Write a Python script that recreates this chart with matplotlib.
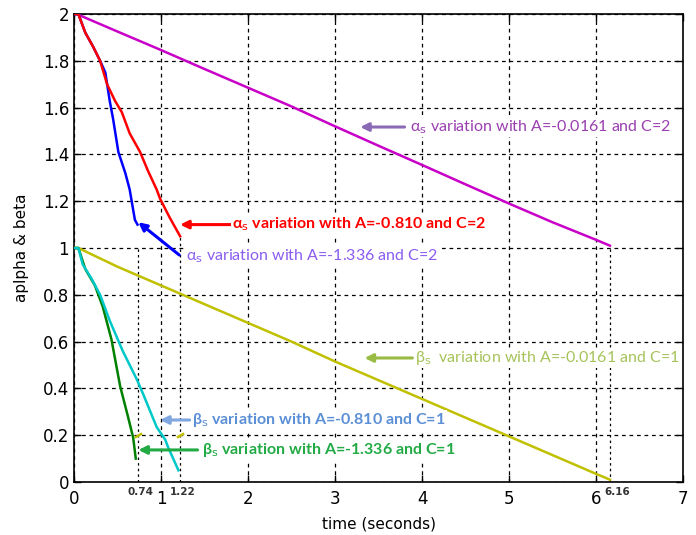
import matplotlib
matplotlib.use("Agg")
import matplotlib.pyplot as plt

# alpha curves (C=2)
alpha_slow_t = [0.0, 0.03, 0.5, 1.0, 1.5, 2.0, 2.5, 3.0, 3.5, 4.0, 4.5, 5.0, 5.5, 6.0, 6.16]
alpha_slow_v = [2.0, 2.0, 1.925, 1.846, 1.765, 1.685, 1.605, 1.52, 1.437, 1.355, 1.272, 1.19, 1.11, 1.035, 1.01]

alpha_mid_t = [0.0, 0.05, 0.13, 0.22, 0.30, 0.38, 0.47, 0.55, 0.64, 0.76, 0.85, 0.95, 0.99, 1.10, 1.22]
alpha_mid_v = [2.0, 2.0, 1.92, 1.86, 1.80, 1.70, 1.63, 1.58, 1.49, 1.41, 1.33, 1.25, 1.21, 1.13, 1.05]

alpha_fast_t = [0.0, 0.05, 0.13, 0.22, 0.30, 0.36, 0.41, 0.45, 0.51, 0.59, 0.64, 0.70, 0.73]
alpha_fast_v = [2.0, 2.0, 1.92, 1.86, 1.80, 1.75, 1.63, 1.55, 1.41, 1.32, 1.25, 1.12, 1.10]

# beta curves (C=1)
beta_slow_t = [0.0, 0.05, 0.5, 1.0, 1.5, 2.0, 2.5, 3.0, 3.5, 4.0, 4.5, 5.0, 5.5, 6.0, 6.16]
beta_slow_v = [1.0, 1.0, 0.92, 0.84, 0.76, 0.68, 0.60, 0.515, 0.435, 0.355, 0.275, 0.195, 0.115, 0.035, 0.01]

beta_mid_t = [0.0, 0.05, 0.10, 0.20, 0.30, 0.41, 0.56, 0.72, 0.79, 0.95, 1.05, 1.08, 1.20]
beta_mid_v = [1.0, 1.0, 0.93, 0.87, 0.80, 0.69, 0.56, 0.44, 0.38, 0.235, 0.18, 0.15, 0.05]

beta_fast_t = [0.0, 0.05, 0.13, 0.24, 0.28, 0.33, 0.43, 0.53, 0.62, 0.68, 0.71]
beta_fast_v = [1.0, 1.0, 0.91, 0.84, 0.80, 0.75, 0.61, 0.41, 0.28, 0.19, 0.10]

# marked end times
end_times = [0.74, 1.22, 6.16]
end_levels = [1.0, 1.05, 1.01]
mark_t = [0.74, 1.22]
mark_v = [0.2, 0.2]

x_ticks = [0, 1, 2, 3, 4, 5, 6, 7]
y_ticks = [0, 0.2, 0.4, 0.6, 0.8, 1.0, 1.2, 1.4, 1.6, 1.8, 2.0]
y_tick_labels = ["0", "0.2", "0.4", "0.6", "0.8", "1", "1.2", "1.4", "1.6", "1.8", "2"]

fig = plt.figure(figsize=(6.96, 5.35), dpi=100)
ax = fig.add_axes([74/696, 53/535, 609/696, 468/535])

ax.set_xlim(0, 7)
ax.set_ylim(0, 2)
ax.set_xticks(x_ticks)
ax.set_yticks(y_ticks)
ax.set_yticklabels(y_tick_labels)
ax.tick_params(direction="in", top=True, right=True, labelsize=12, length=5, width=1.0)
ax.tick_params(axis="x", pad=6)
ax.grid(True, color="black", linestyle=(0, (3, 3)), linewidth=0.9)
for s in ax.spines.values():
    s.set_linewidth(1.2)

for t, lv in zip(end_times, end_levels):
    ax.plot([t, t], [0, lv], color="black", linestyle=(0, (2, 2.5)), linewidth=0.9, zorder=1)

lw = 1.8
ax.plot(alpha_slow_t, alpha_slow_v, color="#c800c8", lw=lw, zorder=3)
ax.plot(alpha_mid_t, alpha_mid_v, color="#ff0000", lw=lw, zorder=4)
ax.plot(alpha_fast_t, alpha_fast_v, color="#0000ff", lw=lw, zorder=3)
ax.plot(beta_slow_t, beta_slow_v, color="#c0c000", lw=lw, zorder=3)
ax.plot(beta_fast_t, beta_fast_v, color="#008000", lw=lw, zorder=3)
ax.plot(beta_mid_t, beta_mid_v, color="#00c8c8", lw=lw, zorder=4)
ax.plot(mark_t, mark_v, linestyle="none", marker=(2, 0, -60), markersize=6,
        markeredgewidth=1.8, color="#c0c000", zorder=4)

for t in end_times:
    ax.text(t + (0.03 if t < 6 else 0.08), -0.02, f"{t:.2f}", ha="center", va="top",
            fontsize=7.5, fontweight="bold", color="#333333")

ax.set_xlabel("time (seconds)", fontsize=11, labelpad=6)
ax.set_ylabel("aplpha & beta", fontsize=11, labelpad=10)

LABEL_FONT = ["Lato", "DejaVu Sans"]


def note(txt, tail, head, text_xy, txt_color, arrow_color, weight="normal"):
    ax.annotate("", xy=head, xytext=tail,
                arrowprops=dict(arrowstyle="-|>", color=arrow_color, lw=2.2,
                                mutation_scale=12, shrinkA=0, shrinkB=0), zorder=6)
    ax.text(text_xy[0], text_xy[1], txt, color=txt_color, fontsize=11.5,
            family=LABEL_FONT, fontweight=weight, va="center", ha="left", zorder=6,
            bbox=dict(facecolor="white", edgecolor="none", pad=1.0))


note(r"α$_\mathrm{s}$ variation with A=-0.0161 and C=2", (3.80, 1.517), (3.29, 1.517),
     (3.86, 1.517), "#9a3fb0", "#8a6ab5")
note(r"α$_\mathrm{s}$ variation with A=-0.810 and C=2", (1.85, 1.10), (1.22, 1.10),
     (1.82, 1.10), "#ff0000", "#ff0000", "bold")
note(r"α$_\mathrm{s}$ variation with A=-1.336 and C=2", (1.21, 0.97), (0.74, 1.11),
     (1.29, 0.966), "#8a5cf0", "#0000ff")
note(r"β$_\mathrm{s}$  variation with A=-0.0161 and C=1", (3.89, 0.53), (3.34, 0.53),
     (3.92, 0.53), "#a6c35a", "#99bb44")
note(r"β$_\mathrm{s}$ variation with A=-0.810 and C=1", (1.33, 0.265), (0.99, 0.265),
     (1.36, 0.265), "#5b8fd6", "#7fa6e0", "bold")
note(r"β$_\mathrm{s}$ variation with A=-1.336 and C=1", (1.42, 0.137), (0.74, 0.137),
     (1.47, 0.137), "#22aa44", "#22aa44", "bold")

fig.savefig("out.png", dpi=100)
